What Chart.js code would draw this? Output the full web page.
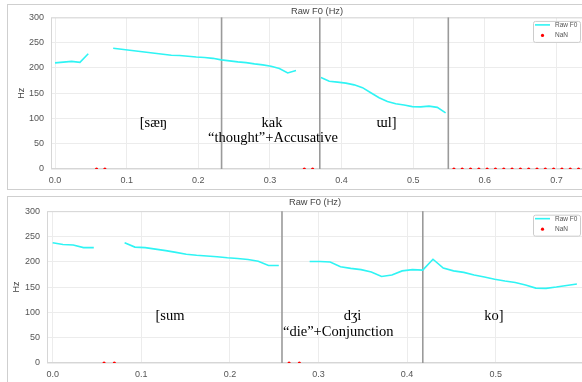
<!DOCTYPE html>
<html>
<head>
<meta charset="utf-8">
<script src="https://cdn.jsdelivr.net/npm/chart.js@4.4.0/dist/chart.umd.min.js"></script>
<style>
  html, body { margin: 0; padding: 0; background: #fff; overflow: hidden; width: 582px; height: 382px; }
  .panel { position: absolute; left: 7px; width: 620px; border: 1px solid #cfcfcf; background: #fff; }
  #p1 { top: 4px; height: 184px; }
  #p2 { top: 196px; height: 200px; }
  canvas { display: block; }
</style>
</head>
<body>
<div class="panel" id="p1"><canvas id="c1" width="579" height="184"></canvas></div>
<div class="panel" id="p2"><canvas id="c2" width="579" height="186"></canvas></div>
<script>
// top utterance: [sæŋ kak ɯl]
const topTime = [0.0, 0.0116, 0.0232, 0.0348, 0.0464, 0.058, 0.0696, 0.0812, 0.0928, 0.1044,
  0.116, 0.1276, 0.1392, 0.1508, 0.1624, 0.174, 0.1856, 0.1972, 0.2088, 0.2204,
  0.232, 0.2436, 0.2552, 0.2668, 0.2784, 0.29, 0.3016, 0.3132, 0.3248, 0.3364,
  0.348, 0.3596, 0.3712, 0.3828, 0.3944, 0.406, 0.4176, 0.4292, 0.4408, 0.4524,
  0.464, 0.4756, 0.4872, 0.4988, 0.5104, 0.522, 0.5336, 0.5452, 0.5568, 0.5684,
  0.58, 0.5916, 0.6032, 0.6148, 0.6264, 0.638, 0.6496, 0.6612, 0.6728, 0.6844,
  0.696, 0.7076, 0.7192, 0.7308];
const topF0 = [210, 211.5, 213, 211, 228, null, null, 239, 237, 235,
  233, 231, 229, 227, 225, 224.5, 223, 221.5, 220.5, 219,
  216, 214, 212, 210.5, 208, 206, 203.5, 199, 190, 195,
  null, null, 181, 173.5, 172, 170, 166.5, 161, 151, 141,
  133.5, 129, 126.5, 123.5, 123, 124.5, 122, 111, null, null,
  null, null, null, null, null, null, null, null, null, null,
  null, null, null, null];
const topBounds = [0.2325, 0.3696, 0.549];
const topXTicks = [0.0, 0.1, 0.2, 0.3, 0.4, 0.5, 0.6, 0.7];
const topLabelText = ['[sæŋ', 'kak', '“thought”+Accusative', 'ɯl]'];
const topLabelX = [0.1374, 0.3028, 0.3042, 0.4628];
const topLabelY = [83.5, 83.5, 54, 83.5];

// bottom utterance: [sum dʒi ko]
const botTime = [0.0, 0.0116, 0.0232, 0.0348, 0.0464, 0.058, 0.0696, 0.0812, 0.0928, 0.1044,
  0.116, 0.1276, 0.1392, 0.1508, 0.1624, 0.174, 0.1856, 0.1972, 0.2088, 0.2204,
  0.232, 0.2436, 0.2552, 0.2668, 0.2784, 0.29, 0.3016, 0.3132, 0.3248, 0.3364,
  0.348, 0.3596, 0.3712, 0.3828, 0.3944, 0.406, 0.4176, 0.4292, 0.4408, 0.4524,
  0.464, 0.4756, 0.4872, 0.4988, 0.5104, 0.522, 0.5336, 0.5452, 0.5568, 0.5684,
  0.58, 0.5916];
const botF0 = [237.5, 234, 233, 228, 228, null, null, 237.5, 229, 228,
  225, 222, 218.5, 215, 213, 211.5, 210, 208, 206.5, 204.5,
  201, 192.5, 192.5, null, null, 200.5, 200.5, 199.5, 190, 187,
  184.5, 180, 171, 174, 182, 184.5, 183.5, 205, 187.5, 182,
  179, 174, 170, 165.5, 162, 159, 154, 148, 147.5, 150,
  153, 156];
const botBounds = [0.2588, 0.4177];
const botXTicks = [0.0, 0.1, 0.2, 0.3, 0.4, 0.5];
const botLabelText = ['[sum', 'dʒi', '“die”+Conjunction', 'ko]'];
const botLabelX = [0.1324, 0.3384, 0.3223, 0.4981];
const botLabelY = [85.5, 85.5, 52.6, 85.5];

const yTicks = [0, 50, 100, 150, 200, 250, 300];

Chart.defaults.font.family = '"Liberation Sans", Arial, sans-serif';
Chart.defaults.color = '#555';

// frame + segment boundaries, under the data
const boundsPlugin = {
  id: 'bounds',
  beforeDatasetsDraw(chart, args, opts) {
    const { ctx, chartArea: a, scales: { x, y } } = chart;
    ctx.save();
    ctx.strokeStyle = '#d6d6d6';
    ctx.lineWidth = 1;
    ctx.strokeRect(a.left + 0.5, a.top + 0.5, a.width - 1, a.height - 1);
    ctx.strokeStyle = '#9a9a9a';
    ctx.lineWidth = 1.6;
    opts.lines.forEach(b => {
      const px = x.getPixelForValue(b);
      ctx.beginPath();
      ctx.moveTo(px, y.getPixelForValue(300));
      ctx.lineTo(px, y.getPixelForValue(0));
      ctx.stroke();
    });
    ctx.restore();
  }
};

// serif transcription / gloss text, placed in data units
const glossPlugin = {
  id: 'gloss',
  afterDatasetsDraw(chart, args, opts) {
    const { ctx, scales: { x, y } } = chart;
    ctx.save();
    ctx.font = '14.5px "Liberation Serif", "Times New Roman", serif';
    ctx.fillStyle = '#000';
    ctx.textAlign = 'center';
    ctx.textBaseline = 'alphabetic';
    opts.text.forEach((t, i) => {
      ctx.fillText(t, x.getPixelForValue(opts.xs[i]), y.getPixelForValue(opts.ys[i]));
    });
    ctx.restore();
  }
};

// small boxed legend in the top right corner of the plot
const boxLegend = {
  id: 'boxLegend',
  afterDraw(chart) {
    const { ctx, chartArea: a } = chart;
    const ds = chart.data.datasets;
    const w = 47, h = 21;
    const left = a.right - w - 3, top = a.top + 3.5;
    ctx.save();
    ctx.fillStyle = '#fff';
    ctx.strokeStyle = '#cccccc';
    ctx.lineWidth = 1;
    ctx.beginPath();
    ctx.roundRect(left + 0.5, top + 0.5, w, h, 2);
    ctx.fill();
    ctx.stroke();
    ctx.strokeStyle = ds[0].borderColor;
    ctx.lineWidth = 1.6;
    ctx.beginPath();
    ctx.moveTo(left + 2, top + 4);
    ctx.lineTo(left + 17, top + 4);
    ctx.stroke();
    ctx.fillStyle = ds[1].backgroundColor;
    ctx.beginPath();
    ctx.arc(left + 9.5, top + 14.5, 1.6, 0, Math.PI * 2);
    ctx.fill();
    ctx.fillStyle = '#555';
    ctx.font = '6.5px "Liberation Sans", Arial, sans-serif';
    ctx.textBaseline = 'middle';
    ctx.fillText(ds[0].label, left + 22, top + 4.5);
    ctx.fillText(ds[1].label, left + 22, top + 14.5);
    ctx.restore();
  }
};

function makeChart(id, cfg) {
  const lineData = cfg.time.map((t, i) => ({ x: t, y: cfg.f0[i] }));
  const nanData = cfg.time.filter((t, i) => cfg.f0[i] === null).map(t => ({ x: t, y: 0 }));
  return new Chart(document.getElementById(id), {
    type: 'line',
    data: {
      datasets: [
        {
          label: 'Raw F0',
          data: lineData,
          borderColor: '#2ff4f4',
          borderWidth: 1.6,
          pointRadius: 0,
          spanGaps: false,
          tension: 0,
        },
        {
          type: 'scatter',
          label: 'NaN',
          data: nanData,
          backgroundColor: '#ff0000',
          borderWidth: 0,
          pointRadius: 1.6,
        },
      ],
    },
    options: {
      responsive: false,
      animation: false,
      events: [],
      layout: { padding: 0 },
      scales: {
        x: {
          type: 'linear',
          min: cfg.xMin,
          max: cfg.xMax,
          afterBuildTicks: (s) => { s.ticks = cfg.xTicks.map(v => ({ value: v })); },
          afterFit: (s) => { s.height = 20; },
          grid: { color: '#ececec', drawTicks: false },
          border: { display: false },
          ticks: { font: { size: 9 }, padding: cfg.xPad, maxRotation: 0, callback: v => v.toFixed(1) },
        },
        y: {
          min: 0,
          max: 300,
          afterBuildTicks: (s) => { s.ticks = yTicks.map(v => ({ value: v })); },
          afterFit: (s) => { s.width = cfg.yWidth; },
          grid: { color: '#ececec', drawTicks: false },
          border: { display: false },
          ticks: { font: { size: 9 }, padding: 7 },
          title: { display: true, text: 'Hz', font: { size: 9 }, color: '#444', padding: { top: cfg.hzPad, bottom: 0 } },
        },
      },
      plugins: {
        legend: { display: false },
        tooltip: { enabled: false },
        title: {
          display: true,
          text: 'Raw F0 (Hz)',
          fullSize: false,
          color: '#444',
          font: { size: 9.3, weight: 'normal' },
          padding: cfg.titlePad,
        },
        bounds: { lines: cfg.bounds },
        gloss: { text: cfg.labelText, xs: cfg.labelX, ys: cfg.labelY },
      },
    },
    plugins: [boundsPlugin, glossPlugin, boxLegend],
  });
}

makeChart('c1', {
  time: topTime, f0: topF0, bounds: topBounds, xTicks: topXTicks,
  labelText: topLabelText, labelX: topLabelX, labelY: topLabelY,
  xMin: -0.0056, xMax: 0.737, yWidth: 43, hzPad: 8.2, xPad: 6.6,
  titlePad: { top: 0, bottom: 0.84 },
});

makeChart('c2', {
  time: botTime, f0: botF0, bounds: botBounds, xTicks: botXTicks,
  labelText: botLabelText, labelX: botLabelX, labelY: botLabelY,
  xMin: -0.0064, xMax: 0.5985, yWidth: 39, hzPad: 3.6, xPad: 5.9,
  titlePad: { top: 0.3, bottom: 2.7 },
});
</script>
</body>
</html>
